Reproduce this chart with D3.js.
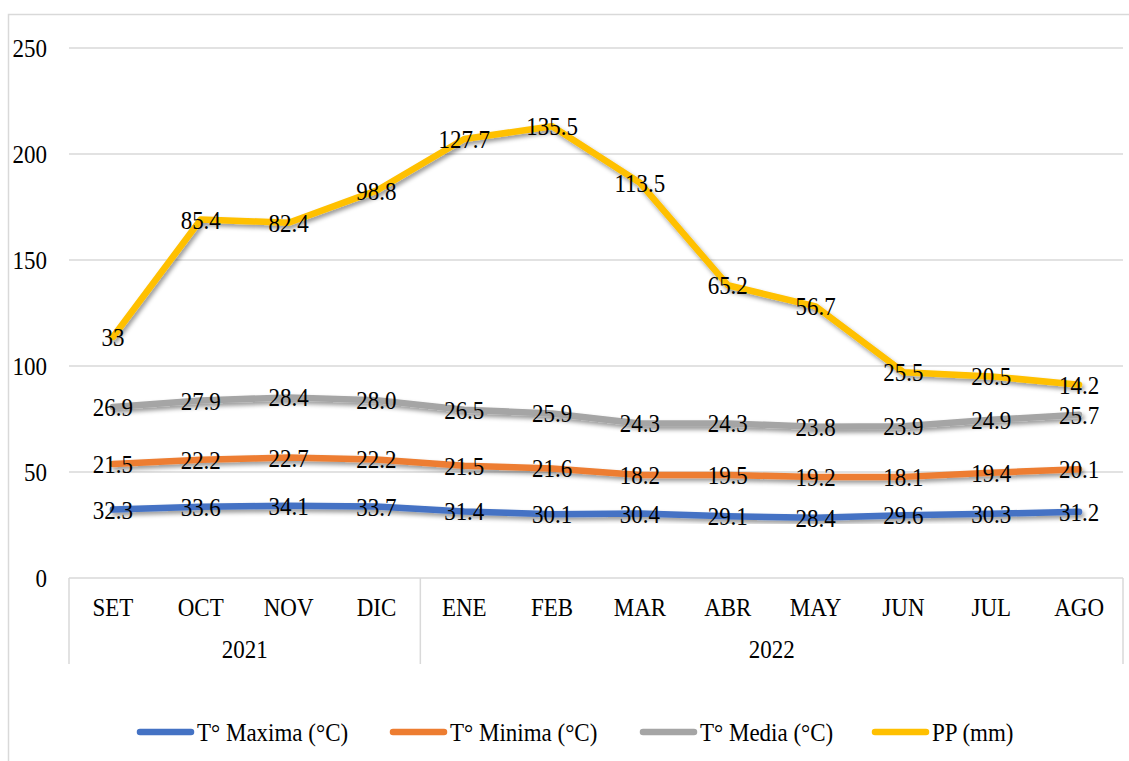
<!DOCTYPE html>
<html><head><meta charset="utf-8">
<script src="https://cdn.jsdelivr.net/npm/d3@7"></script>
<style>body{margin:0;background:#fff}svg{display:block}svg text{font-family:'Liberation Serif','Tinos','Times New Roman','Times','DejaVu Serif',serif;fill:#000;font-size:23px}</style>
</head><body><svg id="c" width="1129" height="761"></svg>
<script>
const months = ["SET","OCT","NOV","DIC","ENE","FEB","MAR","ABR","MAY","JUN","JUL","AGO"];
const years = [{label:"2021", from:0, to:3},{label:"2022", from:4, to:11}];
const tMax = [32.3,33.6,34.1,33.7,31.4,30.1,30.4,29.1,28.4,29.6,30.3,31.2];
const tMin = [21.5,22.2,22.7,22.2,21.5,21.6,18.2,19.5,19.2,18.1,19.4,20.1];
const tMed = [26.9,27.9,28.4,28.0,26.5,25.9,24.3,24.3,23.8,23.9,24.9,25.7];
const pp   = [33,85.4,82.4,98.8,127.7,135.5,113.5,65.2,56.7,25.5,20.5,14.2];
const yTicks = [0,50,100,150,200,250];
const seriesNames = ["T° Maxima (°C)","T° Minima (°C)","T° Media (°C)","PP (mm)"];
const colors = ["#4472c4","#ed7d31","#a5a5a5","#ffc000"];

const svg = d3.select("#c");
const L=69, R=1123, T=48, B=578;
const x = d3.scaleBand().domain(months).range([L,R]);
const y = d3.scaleLinear().domain([0,250]).range([B,T]);
const SY = 1.1; // reference text is slightly stretched vertically
const place = (sel, fx, fy) => sel.attr("transform", (d,i)=>`translate(${fx(d,i)},${fy(d,i)}) scale(1,${SY})`);

svg.append("rect").attr("x",8.5).attr("y",14.5).attr("width",1140).attr("height",800)
  .attr("fill","none").attr("stroke","#d9d9d9").attr("stroke-width",1.5);

const defs = svg.append("defs");
const f = defs.append("filter").attr("id","sh").attr("x","-10%").attr("y","-50%").attr("width","120%").attr("height","200%");
f.append("feDropShadow").attr("dx",2).attr("dy",3).attr("stdDeviation",2).attr("flood-color","#000").attr("flood-opacity",0.4);

svg.append("g").selectAll("line").data(yTicks.filter(d=>d>0)).join("line")
  .attr("x1",L).attr("x2",R).attr("y1",d=>y(d)).attr("y2",d=>y(d))
  .attr("stroke","#d9d9d9").attr("stroke-width",1.5);

place(svg.append("g").selectAll("text").data(yTicks).join("text")
  .attr("text-anchor","end").text(d=>d), ()=>47, d=>y(d)+9);

svg.append("line").attr("x1",L).attr("x2",R).attr("y1",B).attr("y2",B).attr("stroke","#d9d9d9").attr("stroke-width",1.5);
const sepX = [L, x(months[4]), R];
svg.append("g").selectAll("line").data(sepX).join("line")
  .attr("x1",d=>d).attr("x2",d=>d).attr("y1",B).attr("y2",664)
  .attr("stroke","#d9d9d9").attr("stroke-width",1.5);
place(svg.append("g").selectAll("text").data(months).join("text")
  .attr("text-anchor","middle").text(d=>d), d=>x(d)+x.bandwidth()/2, ()=>616);
place(svg.append("g").selectAll("text").data(years).join("text")
  .attr("text-anchor","middle").text(d=>d.label),
  d=>(x(months[d.from])+x(months[d.to])+x.bandwidth())/2, ()=>658);

const raw = [tMax,tMin,tMed,pp];
const cum = [];
raw.forEach((s,i)=>{ cum.push(s.map((v,j)=> v + (i>0?cum[i-1][j]:0))); });
const line = d3.line().x((d,j)=>x(months[j])+x.bandwidth()/2).y(d=>y(d));
const gl = svg.append("g");
cum.forEach((s,i)=>{
  gl.append("path").datum(s).attr("d",line).attr("fill","none")
    .attr("stroke",colors[i]).attr("stroke-width",6.5).attr("stroke-linejoin","round").attr("stroke-linecap","round")
    .attr("filter","url(#sh)");
});
const fmt = (i,v)=> i===3 ? String(v) : v.toFixed(1);
cum.forEach((s,i)=>{
  place(svg.append("g").selectAll("text").data(s).join("text")
    .attr("text-anchor","middle").text((d,j)=>fmt(i,raw[i][j])),
    (d,j)=>x(months[j])+x.bandwidth()/2, d=>y(d)+9);
});

const legX = [137,390,640,872];
const lg = svg.append("g");
seriesNames.forEach((n,i)=>{
  lg.append("line").attr("x1",legX[i]+3).attr("x2",legX[i]+54).attr("y1",732).attr("y2",732)
    .attr("stroke",colors[i]).attr("stroke-width",6.5).attr("stroke-linecap","round");
  lg.append("text").attr("transform",`translate(${legX[i]+60},741) scale(1,${SY})`).text(n);
});
</script></body></html>
